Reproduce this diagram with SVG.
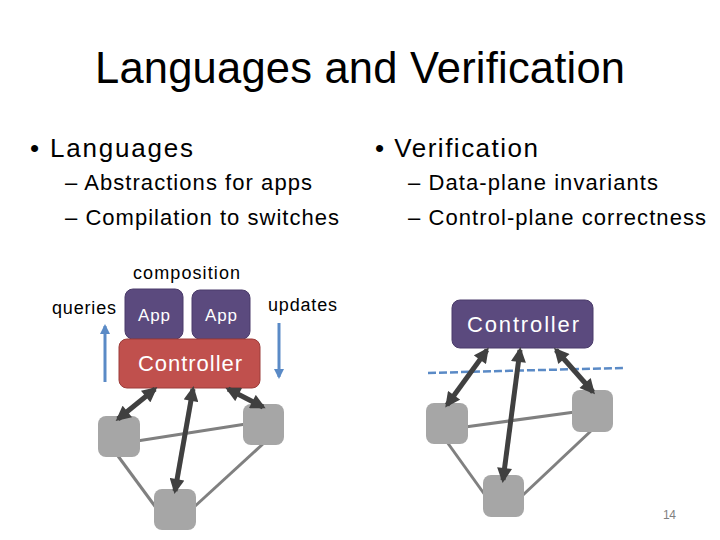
<svg xmlns="http://www.w3.org/2000/svg" width="720" height="540" viewBox="0 0 720 540">
<style>
text{font-family:"Liberation Sans",Arial,sans-serif;fill:#000}
.w{fill:#fff}
.app{fill:#5b4a7e;stroke:#4a3b6a;stroke-width:1}
.ctl{fill:#c0504d;stroke:#9c3d3a;stroke-width:1}
.sw{fill:#a6a6a6}
.link{stroke:#808080;stroke-width:3;fill:none}
.ctrl{stroke:#404040;stroke-width:5;fill:none;marker-start:url(#dh);marker-end:url(#dh)}
.blue{stroke:#5a8ac6;stroke-width:3;fill:none;marker-end:url(#bh)}
</style>
<defs>
<marker id="dh" viewBox="0 0 10 10" refX="8" refY="5" markerWidth="3.2" markerHeight="3" orient="auto-start-reverse" markerUnits="strokeWidth"><path d="M0,0L10,5L0,10z" fill="#404040"/></marker>
<marker id="bh" viewBox="0 0 10 10" refX="8" refY="5" markerWidth="3.4" markerHeight="3.4" orient="auto" markerUnits="strokeWidth"><path d="M0,0L10,5L0,10z" fill="#5a8ac6"/></marker>
</defs>
<rect width="720" height="540" fill="#fff"/>
<g id="title"><text x="95" y="83" font-size="43.5" textLength="530" lengthAdjust="spacing">Languages and Verification</text></g>
<g id="bullets">
<text x="30" y="157" font-size="26" textLength="163" lengthAdjust="spacing">• Languages</text>
<text x="65" y="190" font-size="22" textLength="247" lengthAdjust="spacing">– Abstractions for apps</text>
<text x="65" y="225" font-size="22" textLength="274" lengthAdjust="spacing">– Compilation to switches</text>
<text x="375" y="157" font-size="26" textLength="163" lengthAdjust="spacing">• Verification</text>
<text x="408" y="190" font-size="22" textLength="250" lengthAdjust="spacing">– Data-plane invariants</text>
<text x="408" y="225" font-size="22" textLength="298" lengthAdjust="spacing">– Control-plane correctness</text>
</g>
<g id="labels">
<text x="133" y="279" font-size="18" textLength="107" lengthAdjust="spacing">composition</text>
<text x="52" y="314" font-size="18" textLength="64" lengthAdjust="spacing">queries</text>
<text x="268" y="311" font-size="18" textLength="69" lengthAdjust="spacing">updates</text>
<text x="663" y="519" font-size="12" textLength="13" lengthAdjust="spacing" style="fill:#7f7f7f">14</text>
</g>
<g id="connectors">
<line class="link" x1="137" y1="441" x2="246" y2="424"/>
<line class="link" x1="118" y1="456" x2="157" y2="509"/>
<line class="link" x1="264" y1="443" x2="193" y2="508"/>
<line class="link" x1="465" y1="427" x2="575" y2="412"/>
<line class="link" x1="447" y1="442" x2="485" y2="495"/>
<line class="link" x1="593" y1="429" x2="523" y2="495"/>
<line class="blue" x1="105" y1="382" x2="105" y2="326"/>
<line class="blue" x1="279" y1="323" x2="279" y2="377"/>
<path d="M428,373 L500,371 L625,368" stroke="#5a8ac6" stroke-width="2.5" stroke-dasharray="8,3" fill="none"/>
</g>
<g id="switches">
<rect id="sL1" class="sw" x="98" y="416" width="42" height="41" rx="8"/>
<rect id="sL2" class="sw" x="243" y="404" width="41" height="41" rx="8"/>
<rect id="sL3" class="sw" x="154" y="489" width="42" height="41" rx="8"/>
<rect id="sR1" class="sw" x="426" y="403" width="42" height="41" rx="8"/>
<rect id="sR2" class="sw" x="572" y="390" width="41" height="42" rx="8"/>
<rect id="sR3" class="sw" x="483" y="475" width="41" height="42" rx="8"/>
</g>
<g id="app1"><rect class="app" x="125" y="289" width="58" height="50" rx="8"/><text class="w" x="138" y="321" font-size="17" textLength="32" lengthAdjust="spacing">App</text></g>
<g id="app2"><rect class="app" x="192" y="290" width="58" height="49" rx="8"/><text class="w" x="205" y="321" font-size="17" textLength="32" lengthAdjust="spacing">App</text></g>
<g id="ctlL"><rect class="ctl" x="119" y="339" width="141" height="49" rx="8"/><text class="w" x="138" y="371" font-size="22" textLength="104" lengthAdjust="spacing">Controller</text></g>
<g id="ctlR"><rect class="app" x="452" y="300" width="141" height="48" rx="8"/><text class="w" x="467" y="332" font-size="22" textLength="112" lengthAdjust="spacing">Controller</text></g>
<g id="ctrlArrows">
<line class="ctrl" x1="155" y1="389" x2="118" y2="419"/>
<line class="ctrl" x1="193" y1="389" x2="175" y2="491"/>
<line class="ctrl" x1="228" y1="389" x2="263" y2="407"/>
<line class="ctrl" x1="487" y1="350" x2="447" y2="405"/>
<line class="ctrl" x1="520" y1="350" x2="503" y2="480"/>
<line class="ctrl" x1="556" y1="350" x2="593" y2="392"/>
</g>
</svg>
